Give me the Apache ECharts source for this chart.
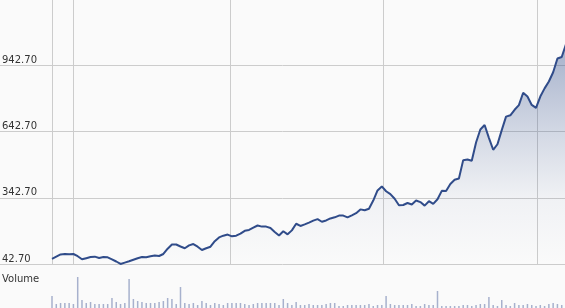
<!DOCTYPE html>
<html>
<head>
<meta charset="utf-8">
<script src="https://cdn.jsdelivr.net/npm/echarts@6/dist/echarts.min.js"></script>
<style>
    html, body { margin: 0; padding: 0; background: #fafafa; }
    #main { width: 565px; height: 308px; }
</style>
</head>
<body>
<div id="main"></div>
<script>
// price closes, one per period
var closes = [
    66, 76, 86, 88, 87, 88, 78, 64, 69, 74,
    76, 70, 74, 73, 64, 54, 43, 49, 55, 62,
    69, 74, 73, 78, 81, 79, 88, 112, 131, 131,
    122, 114, 127, 133, 121, 106, 114, 121, 146, 163,
    171, 176, 168, 171, 180, 193, 197, 207, 217, 212,
    212, 206, 188, 172, 191, 177, 195, 225, 215, 222,
    230, 239, 246, 234, 240, 249, 254, 262, 262, 254,
    263, 273, 290, 286, 293, 330, 376, 394, 372, 359,
    338, 309, 310, 319, 312, 330, 323, 307, 327, 315,
    336, 374, 373, 405, 424, 430, 513, 516, 510, 593,
    652, 672, 614, 560, 585, 649, 710, 716, 741, 762,
    818, 801, 763, 750, 801, 838, 869, 911, 973, 980, 1038
];
// volume bars (relative units)
var volumes = [
    14, 6, 7, 7, 7, 6, 33, 10, 7, 8,
    6, 6, 6, 6, 12, 8, 6, 7, 31, 11,
    9, 8, 7, 7, 7, 8, 9, 12, 11, 6,
    23, 7, 6, 7, 5, 9, 7, 5, 7, 6,
    5, 7, 7, 7, 7, 6, 5, 6, 7, 7,
    7, 7, 7, 5, 11, 7, 5, 8, 5, 5,
    6, 5, 5, 5, 6, 7, 7, 4, 4, 5,
    5, 5, 5, 5, 6, 4, 5, 5, 14, 6,
    5, 5, 5, 5, 6, 4, 4, 6, 5, 5,
    19, 4, 4, 4, 4, 4, 5, 5, 4, 5,
    6, 6, 13, 5, 4, 10, 5, 4, 7, 5,
    5, 6, 5, 4, 5, 4, 6, 7, 6, 5, 5
];
// y tick labels
var priceTicks = [42.7, 342.7, 642.7, 942.7, 1242.7];
// period boundaries (in period index units)
var periodMarks = [0, 5.07, 41.5, 77.3, 113.2];

var pricePoints = closes.map(function (v, i) { return [i, v]; });
var volPoints = volumes.map(function (v, i) { return [i, v]; });

var chart = echarts.init(document.getElementById('main'));

var option = {
    backgroundColor: '#fafafa',
    animation: false,
    title: {
        text: 'Volume',
        left: 2,
        top: 274,
        padding: 0,
        textStyle: { fontSize: 10, fontWeight: 'normal', color: '#333', fontFamily: 'DejaVu Sans' }
    },
    grid: [
        // full-width grid: horizontal lines + labels
        { left: 0, right: 0, top: -1, bottom: 44, outerBoundsMode: 'none' },
        // price plot
        { left: 52, right: -1, top: -1, bottom: 44, outerBoundsMode: 'none' },
        // volume
        { left: 52, right: -1, top: 270, bottom: -2, outerBoundsMode: 'none' }
    ],
    xAxis: [
        { gridIndex: 0, type: 'value', min: 0, max: 1, show: false },
        {
            gridIndex: 1, type: 'value', min: 0, max: closes.length - 1,
            axisLine: { show: false },
            axisTick: { show: false, customValues: periodMarks },
            axisLabel: { show: false },
            splitLine: { show: true, lineStyle: { color: '#cccccc', width: 1 } }
        },
        { gridIndex: 2, type: 'value', min: 0, max: closes.length - 1, show: false }
    ],
    yAxis: [
        {
            gridIndex: 0, type: 'value',
            min: priceTicks[0], max: priceTicks[priceTicks.length - 1], interval: 300,
            axisLine: { show: false },
            axisTick: { show: false },
            axisLabel: {
                inside: true, margin: 2, verticalAlign: 'bottom',
                showMaxLabel: false,
                color: '#333', fontSize: 10, fontFamily: 'DejaVu Sans',
                formatter: function (v) { return v.toFixed(2); }
            },
            splitLine: { lineStyle: { color: '#cccccc', width: 1 } }
        },
        {
            gridIndex: 1, type: 'value',
            min: priceTicks[0], max: priceTicks[priceTicks.length - 1],
            show: false, splitLine: { show: false }
        },
        { gridIndex: 2, type: 'value', min: 0, max: 40, show: false }
    ],
    series: [
        {
            name: 'Price',
            type: 'line',
            xAxisIndex: 1,
            yAxisIndex: 1,
            data: pricePoints,
            showSymbol: false,
            lineStyle: { color: '#304c8a', width: 2 },
            areaStyle: {
                color: new echarts.graphic.LinearGradient(0, 0, 0, 1, [
                    { offset: 0, color: 'rgba(48,76,138,0.6)' },
                    { offset: 0.4, color: 'rgba(48,76,138,0.28)' },
                    { offset: 0.7, color: 'rgba(48,76,138,0.07)' },
                    { offset: 1, color: 'rgba(48,76,138,0)' }
                ])
            }
        },
        {
            name: 'Volume',
            type: 'bar',
            xAxisIndex: 2,
            yAxisIndex: 2,
            data: volPoints,
            barWidth: 1.5,
            itemStyle: { color: '#a7b1cd' }
        }
    ]
};

chart.setOption(option);
</script>
</body>
</html>
